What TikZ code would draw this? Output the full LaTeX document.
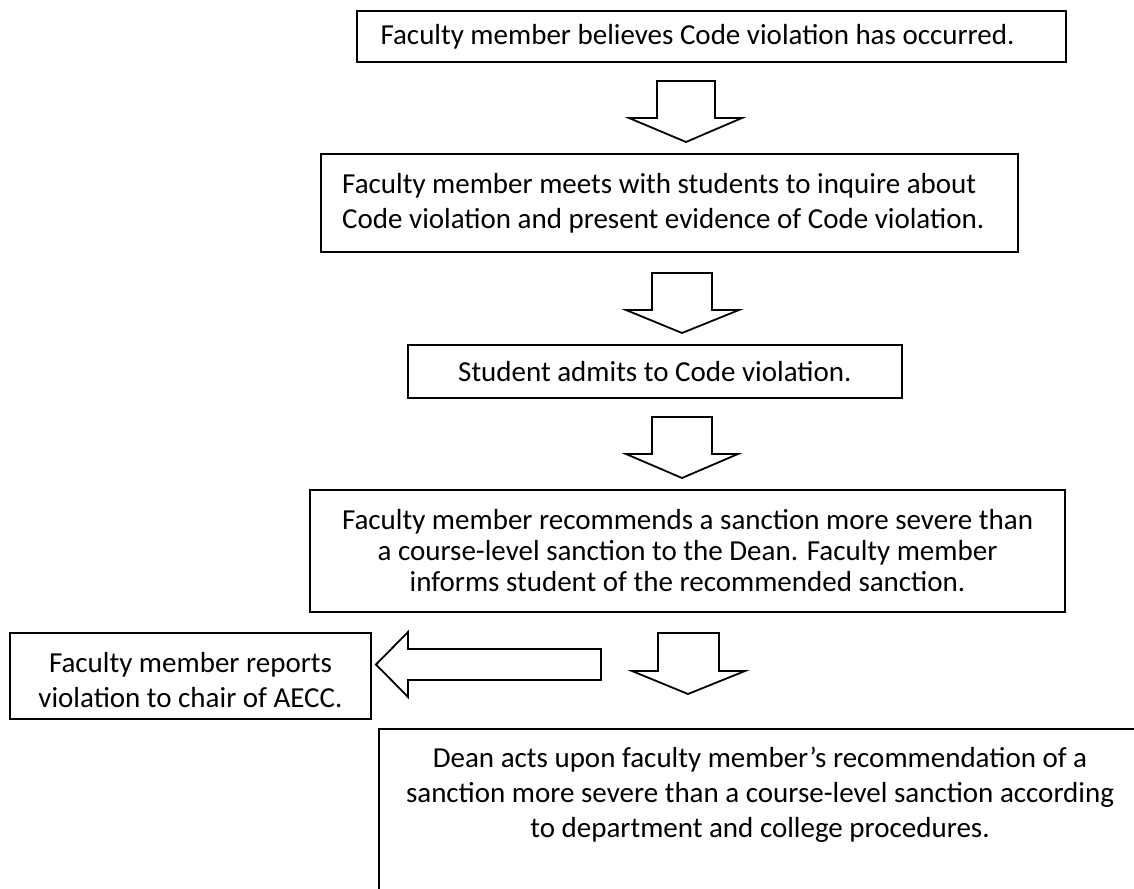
\documentclass[tikz,border=0pt]{standalone}
\usepackage{fontspec}
\setmainfont{Carlito}
\begin{document}
\begin{tikzpicture}[x=1pt,y=-1pt,
  box/.style={draw, line width=2pt, inner sep=0pt, rectangle},
  txt/.style={inner sep=0pt, font=\fontsize{29}{35}\selectfont},
  blockarr/.style={draw, line width=1.8pt, line join=miter, fill=white}]
\useasboundingbox (0,0) rectangle (1134,888);
\fill[white] (0,0) rectangle (1134,888);
\clip (0,0) rectangle (1134,888);
% boxes
\node[box, minimum width=709pt, minimum height=51pt] (b1) at (711.5,36.5) {};
\node[box, minimum width=697pt, minimum height=98pt] (b2) at (669.5,203) {};
\node[box, minimum width=494pt, minimum height=53pt] (b3) at (655,371.5) {};
\node[box, minimum width=755pt, minimum height=122pt] (b4) at (687.5,551) {};
\node[box, minimum width=361pt, minimum height=86pt] (b5) at (190.5,676) {};
\node[box, minimum width=762pt, minimum height=171pt] (b6) at (760,814.5) {};
% texts
\node[txt] (t1) at (697.5,36.5) {Faculty member believes Code violation has occurred.};
\node[txt, anchor=west, align=left] (t2) at (342,203) {Faculty member meets with students to inquire about\\Code violation and present evidence of Code violation.};
\node[txt, anchor=west] (t3) at (458,371.5) {Student admits to Code violation.};
\node[txt, align=center, font=\fontsize{29}{31}\selectfont] (t4) at (687.5,551) {Faculty member recommends a sanction more severe than\\a course-level sanction to the Dean. Faculty member\\informs student of the recommended sanction.};
\node[txt, align=center] (t5) at (190.5,680) {Faculty member reports\\violation to chair of AECC.};
\node[txt, align=center] (t6) at (760,795) {Dean acts upon faculty member’s recommendation of a\\sanction more severe than a course-level sanction according\\to department and college procedures.};
% block arrows
\draw[blockarr] (657,81) -- (715,81) -- (715,118) -- (742,118) -- (686,142) -- (629,118) -- (657,118) -- cycle;
\draw[blockarr] (652,273) -- (712,273) -- (712,310) -- (739,310) -- (682,333) -- (626,310) -- (652,310) -- cycle;
\draw[blockarr] (652,417) -- (712,417) -- (712,454) -- (738,454) -- (682,478) -- (626,454) -- (652,454) -- cycle;
\draw[blockarr] (658,633) -- (719,633) -- (719,671) -- (745,671) -- (688,694) -- (632,671) -- (658,671) -- cycle;
\draw[blockarr] (601,649) -- (601,680) -- (408,680) -- (408,697) -- (376,664.5) -- (408,632) -- (408,649) -- cycle;
\end{tikzpicture}
\end{document}
